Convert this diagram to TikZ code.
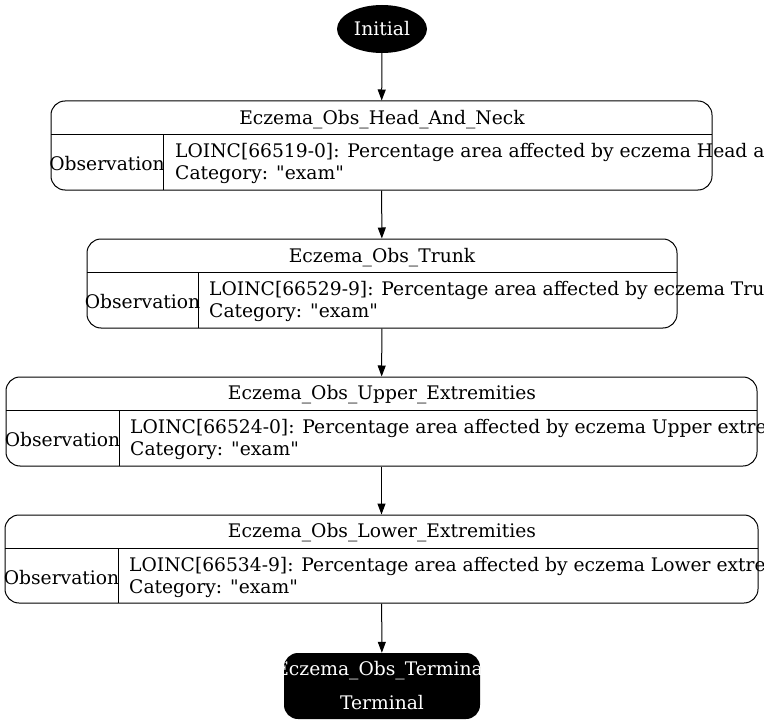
\documentclass[tikz,border=0pt]{standalone}
\usepackage{fontspec}
\setmainfont{DejaVu Serif}[Ligatures=TeXOff]
\usetikzlibrary{arrows.meta,shapes.geometric}
\begin{document}
\begin{tikzpicture}[x=1pt,y=-1pt,
  every node/.style={font=\fontsize{18.7}{22}\selectfont, inner sep=0pt},
  rec/.style={draw, line width=1pt, rounded corners=14pt, rectangle},
  conn/.style={line width=1pt, -{Triangle[length=11pt,width=8pt]}},
  lbl/.style={anchor=west}
]
\useasboundingbox (0,0) rectangle (764,725);
\clip (0,0) rectangle (764,725);
% Initial
\node[ellipse, fill=black, minimum width=90pt, minimum height=48pt, text=white] (init) at (382,29) {\raisebox{-1.5pt}{Initial}};
% Box 1
\node[rec, minimum width=661pt, minimum height=89pt] (b1) at (381.5,145.5) {};
\draw[line width=1pt] (51,135) -- (712,135) (163,135) -- (163,190);
\node (t1) at (382,119.5) {Eczema\_Obs\_Head\_And\_Neck};
\node (o1) at (107,163.5) {Observation};
\node[lbl] (l1a) at (175,152.5) {LOINC[66519-0]: Percentage area affected by eczema Head and neck};
\node[lbl] (l1b) at (175,174.5) {Category: "exam"};
% Box 2
\node[rec, minimum width=590pt, minimum height=89pt] (b2) at (382,283.5) {};
\draw[line width=1pt] (87,272) -- (677,272) (198,272) -- (198,328);
\node (t2) at (382,257.5) {Eczema\_Obs\_Trunk};
\node (o2) at (142.5,301.5) {Observation};
\node[lbl] (l2a) at (209,290.5) {LOINC[66529-9]: Percentage area affected by eczema Trunk};
\node[lbl] (l2b) at (209,312.5) {Category: "exam"};
% Box 3
\node[rec, minimum width=751pt, minimum height=89pt] (b3) at (381.5,421.5) {};
\draw[line width=1pt] (6,410) -- (757,410) (119,410) -- (119,466);
\node (t3) at (382,394.5) {Eczema\_Obs\_Upper\_Extremities};
\node (o3) at (62.5,439.5) {Observation};
\node[lbl] (l3a) at (130,428.5) {LOINC[66524-0]: Percentage area affected by eczema Upper extremities};
\node[lbl] (l3b) at (130,450.5) {Category: "exam"};
% Box 4
\node[rec, minimum width=753pt, minimum height=88pt] (b4) at (381.5,559) {};
\draw[line width=1pt] (5,548) -- (758,548) (118,548) -- (118,603);
\node (t4) at (382,532.5) {Eczema\_Obs\_Lower\_Extremities};
\node (o4) at (61.5,577.5) {Observation};
\node[lbl] (l4a) at (129,566.5) {LOINC[66534-9]: Percentage area affected by eczema Lower extremities};
\node[lbl] (l4b) at (129,588.5) {Category: "exam"};
% Terminal
\node[fill=black, rounded corners=14pt, minimum width=196pt, minimum height=66pt] (term) at (382,686) {};
\begin{scope}
\clip[rounded corners=14pt] (284,653) rectangle (480,719);
\node[text=white] (tt1) at (382,671) {Eczema\_Obs\_Terminal};
\node[text=white] (tt2) at (382,703) {Terminal};
\end{scope}
% Connectors
\draw[conn] (init) -- (b1);
\draw[conn] (b1) -- (b2);
\draw[conn] (b2) -- (b3);
\draw[conn] (b3) -- (b4);
\draw[conn] (b4) -- (term);
\end{tikzpicture}
\end{document}
